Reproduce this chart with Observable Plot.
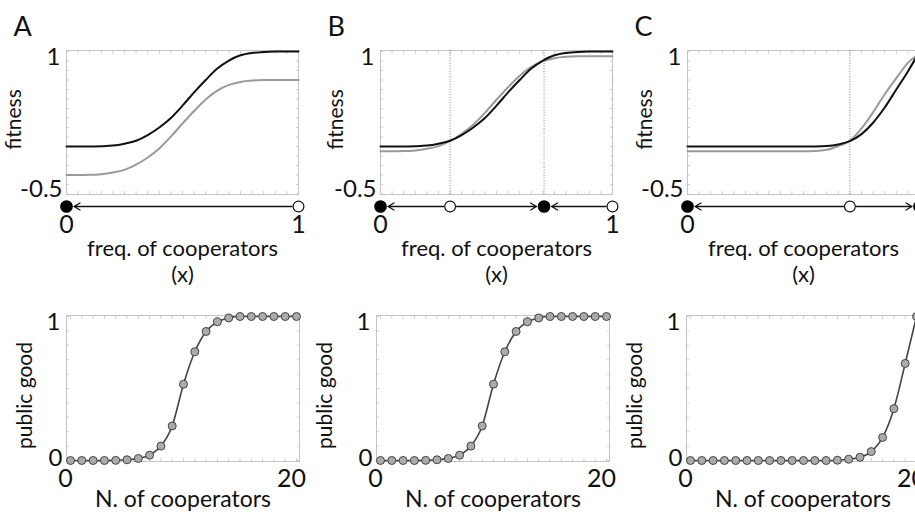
<!DOCTYPE html>
<html>
<head>
<meta charset="utf-8">
<script src="https://cdn.jsdelivr.net/npm/d3@7"></script>
<script src="https://cdn.jsdelivr.net/npm/@observablehq/plot@0.6"></script>
<style>
  body { margin: 0; background: #fff; }
  #fig { position: relative; width: 915px; height: 512px; overflow: hidden; background: #fff; }
  #fig svg { position: absolute; }
</style>
</head>
<body>
<div id="fig"></div>
<script>
// ---------- data ----------
const panelLetters = ["A", "B", "C"];

// frequency of cooperators (x) sample points
const fitnessX = [0, 0.05, 0.1, 0.15, 0.2, 0.25, 0.3, 0.35, 0.4, 0.45, 0.5, 0.55, 0.6, 0.65, 0.7, 0.75, 0.8, 0.85, 0.9, 0.95, 1];

// fitness of defectors (black) and cooperators (gray)
const defectorA   = [0, 0, 0, 0.003, 0.01, 0.03, 0.06, 0.12, 0.2, 0.3, 0.43, 0.57, 0.7, 0.82, 0.905, 0.96, 0.985, 0.996, 1, 1, 1];
const cooperatorA = [-0.3, -0.3, -0.298, -0.291, -0.274, -0.246, -0.192, -0.116, -0.02, 0.104, 0.242, 0.374, 0.496, 0.588, 0.649, 0.68, 0.694, 0.699, 0.7, 0.7, 0.7];
const defectorB   = [0, 0, 0, 0.003, 0.01, 0.03, 0.06, 0.12, 0.2, 0.3, 0.43, 0.57, 0.7, 0.82, 0.905, 0.96, 0.985, 0.996, 1, 1, 1];
const cooperatorB = [-0.05, -0.05, -0.048, -0.041, -0.024, 0.004, 0.058, 0.134, 0.23, 0.354, 0.492, 0.624, 0.746, 0.838, 0.899, 0.93, 0.944, 0.949, 0.95, 0.95, 0.95];
const defectorC   = [0, 0, 0, 0, 0, 0, 0, 0, 0, 0, 0, 0.001, 0.005, 0.022, 0.056, 0.13, 0.25, 0.41, 0.6, 0.79, 1];
const cooperatorC = [-0.05, -0.05, -0.05, -0.05, -0.05, -0.05, -0.05, -0.05, -0.05, -0.05, -0.05, -0.047, -0.035, 0.005, 0.06, 0.19, 0.36, 0.55, 0.72, 0.88, 0.98];

// equilibria on the x axis (stable = filled) and the flows between them
const equilibriaA = [0, 1];             const stableA = [true, false];
const flowFromA = [1];                  const flowToA = [0];
const equilibriaB = [0, 0.3, 0.705, 1]; const stableB = [true, false, true, false];
const flowFromB = [0.3, 0.3, 1];        const flowToB = [0, 0.705, 0.705];
const equilibriaC = [0, 0.7, 1];        const stableC = [true, false, true];
const flowFromC = [0.7, 0.7];           const flowToC = [0, 1];
const dottedA = [];
const dottedB = [0.3, 0.705];
const dottedC = [0.7];

// public good as a function of number of cooperators
const groupSizes   = [0, 1, 2, 3, 4, 5, 6, 7, 8, 9, 10, 11, 12, 13, 14, 15, 16, 17, 18, 19, 20];
const publicGoodAB = [0, 0, 0, 0, 0.001, 0.005, 0.014, 0.037, 0.1, 0.24, 0.53, 0.755, 0.896, 0.963, 0.99, 1, 1, 1, 1, 1, 1];
const publicGoodC  = [0, 0, 0, 0, 0, 0, 0, 0, 0, 0, 0, 0, 0, 0.002, 0.009, 0.023, 0.062, 0.16, 0.36, 0.674, 1];

// tick labels and axis titles
const fitnessTicks = [1, -0.5];  const fitnessTickLabels = ["1", "-0.5"];
const freqTicks = [0, 1];        const freqTickLabels = ["0", "1"];
const goodTicks = [1, 0];        const goodTickLabels = ["1", "0"];
const nTicks = [0, 20];          const nTickLabels = ["0", "20"];
const fitnessLabel = "fitness";
const freqLabel = "freq. of cooperators";
const freqSubLabel = "(x)";
const goodLabel = "public good";
const nLabel = "N. of cooperators";

// minor frame ticks
const minorFreq = d3.range(0, 1.0001, 0.05);
const minorFitness = d3.range(-0.5, 1.0001, 0.1);
const minorN = d3.range(0, 20.001, 1);
const minorGood = d3.range(0, 1.0001, 0.1);

// ---------- layout ----------
const FONT = "Lato, 'Open Sans', sans-serif";
const topLeft = [66, 380, 687], topY = 50;
const bottomLeft = [66, 376, 686], bottomY = 315;
const fitLabelDx = [-52, -44, -42];
const goodLabelDx = [-41, -51, -51];
const freqTicksShown = [freqTicks, freqTicks, freqTicks.slice(0, 1)]; // panel C is cropped at the right edge
const fig = document.getElementById("fig");
const baseStyle = {background: "transparent", overflow: "visible", fontFamily: FONT, fontSize: "21px", color: "#111", maxWidth: "none"};
const frameColor = "#c4c4c4";
const tickFont = 24, titleFont = 21;

function place(svg, left, top) {
  svg.style.left = left + "px";
  svg.style.top = top + "px";
  fig.appendChild(svg);
}

function minorAxes(xt, yt) {
  const o = {tickSize: -3, tickFormat: () => "", stroke: frameColor, strokeWidth: 0.8, label: null};
  return [
    Plot.axisX({...o, ticks: xt, anchor: "bottom"}),
    Plot.axisX({...o, ticks: xt, anchor: "top"}),
    Plot.axisY({...o, ticks: yt, anchor: "left"}),
    Plot.axisY({...o, ticks: yt, anchor: "right"})
  ];
}

function fitnessPanel(i, def, coop, dotted) {
  const ML = 70, MR = 8, MT = 45, MB = 6, W = 232, H = 144;
  const rows = fitnessX.map((x, j) => ({x, def: def[j], coop: coop[j]}));
  const svg = Plot.plot({
    width: ML + W + MR, height: MT + H + MB,
    marginLeft: ML, marginRight: MR, marginTop: MT, marginBottom: MB,
    style: baseStyle,
    x: {domain: [0, 1], axis: null, label: null},
    y: {domain: [-0.5, 1], insetTop: 1, insetBottom: 0.5, axis: null, label: null},
    marks: [
      Plot.frame({stroke: frameColor}),
      ...minorAxes(minorFreq, minorFitness),
      Plot.ruleX(dotted, {stroke: "#777", strokeWidth: 0.9, strokeDasharray: "1,1.6"}),
      Plot.line(rows, {x: "x", y: "coop", stroke: "#9a9a9a", strokeWidth: 2, curve: "monotone-x"}),
      Plot.line(rows, {x: "x", y: "def", stroke: "#111", strokeWidth: 2, curve: "monotone-x"}),
      Plot.axisY({ticks: [fitnessTicks[0]], tickFormat: () => fitnessTickLabels[0], tickSize: 0, tickPadding: 6, dy: 6, label: null, fontSize: tickFont}),
      Plot.axisY({ticks: [fitnessTicks[1]], tickFormat: () => fitnessTickLabels[1], tickSize: 0, tickPadding: 4, dy: -5, label: null, fontSize: tickFont}),
      Plot.text([fitnessLabel], {frameAnchor: "left", textAnchor: "middle", rotate: -90, dx: fitLabelDx[i], dy: -3, fontSize: titleFont, text: d => d}),
      Plot.text([panelLetters[i]], {frameAnchor: "top-left", textAnchor: "start", lineAnchor: "bottom", dx: -53, dy: -15, fontSize: 27, text: d => d})
    ]
  });
  place(svg, topLeft[i] - ML, topY - MT);
}

function flowStrip(i, eqX, stable, from, to) {
  const ML = 20, MR = 20, MT = 0, MB = 80, W = 232, AH = 18;
  const flows = from.map((f, j) => ({from: f, to: to[j]}));
  const eq = eqX.map((x, j) => ({x, stable: stable[j]}));
  const svg = Plot.plot({
    width: ML + W + MR, height: MT + AH + MB,
    marginLeft: ML, marginRight: MR, marginTop: MT, marginBottom: MB,
    style: baseStyle,
    x: {domain: [0, 1], axis: null, label: null},
    y: {domain: [-1, 1], axis: null, label: null},
    marks: [
      Plot.arrow(flows, {x1: "from", x2: "to", y1: () => 0, y2: () => 0, stroke: "#111", strokeWidth: 1.3, headLength: 8, insetStart: 6.5, insetEnd: 7.5}),
      Plot.dot(eq.filter(d => d.stable), {x: "x", r: 5.6, fill: "#000", stroke: "#000"}),
      Plot.dot(eq.filter(d => !d.stable), {x: "x", r: 5.4, fill: "#fff", stroke: "#111", strokeWidth: 1.2}),
      Plot.axisX({ticks: freqTicksShown[i], tickFormat: d => freqTickLabels[freqTicks.indexOf(d)], tickSize: 0, tickPadding: 0, label: null, fontSize: 25}),
      Plot.text([freqLabel], {frameAnchor: "bottom", dy: 40, lineAnchor: "bottom", fontSize: 22, text: d => d}),
      Plot.text([freqSubLabel], {frameAnchor: "bottom", dy: 66, lineAnchor: "bottom", fontSize: 22, text: d => d})
    ]
  });
  place(svg, topLeft[i] - ML, 197);
}

function goodPanel(i, good) {
  const ML = 60, MR = 8, MT = 6, MB = 60, W = 233, H = 146;
  const rows = groupSizes.map((k, j) => ({k, b: good[j]}));
  const svg = Plot.plot({
    width: ML + W + MR, height: MT + H + MB,
    marginLeft: ML, marginRight: MR, marginTop: MT, marginBottom: MB,
    style: baseStyle,
    x: {domain: [0, 20], insetLeft: 4, insetRight: 3, axis: null, label: null},
    y: {domain: [0, 1], insetTop: 1, insetBottom: 1, axis: null, label: null},
    marks: [
      Plot.frame({stroke: frameColor}),
      ...minorAxes(minorN, minorGood),
      Plot.line(rows, {x: "k", y: "b", stroke: "#444", strokeWidth: 1.6, curve: "monotone-x"}),
      Plot.dot(rows, {x: "k", y: "b", r: 4, fill: "#ababab", stroke: "#444", strokeWidth: 1}),
      Plot.axisY({ticks: [goodTicks[0]], tickFormat: () => goodTickLabels[0], tickSize: 0, tickPadding: 6, dy: 6, label: null, fontSize: tickFont}),
      Plot.axisY({ticks: [goodTicks[1]], tickFormat: () => goodTickLabels[1], tickSize: 0, tickPadding: 4, dy: -2, label: null, fontSize: tickFont}),
      Plot.axisX({ticks: nTicks, tickFormat: d => nTickLabels[nTicks.indexOf(d)], tickSize: 0, tickPadding: 8, dx: -5, label: null, fontSize: 25}),
      Plot.text([nLabel], {frameAnchor: "bottom", dy: 45, lineAnchor: "bottom", fontSize: 23, text: d => d}),
      Plot.text([goodLabel], {frameAnchor: "left", textAnchor: "middle", rotate: -90, dx: goodLabelDx[i], dy: 7, fontSize: titleFont, text: d => d})
    ]
  });
  place(svg, bottomLeft[i] - ML, bottomY - MT);
}

fitnessPanel(0, defectorA, cooperatorA, dottedA);
fitnessPanel(1, defectorB, cooperatorB, dottedB);
fitnessPanel(2, defectorC, cooperatorC, dottedC);
flowStrip(0, equilibriaA, stableA, flowFromA, flowToA);
flowStrip(1, equilibriaB, stableB, flowFromB, flowToB);
flowStrip(2, equilibriaC, stableC, flowFromC, flowToC);
goodPanel(0, publicGoodAB);
goodPanel(1, publicGoodAB);
goodPanel(2, publicGoodC);
</script>
</body>
</html>
